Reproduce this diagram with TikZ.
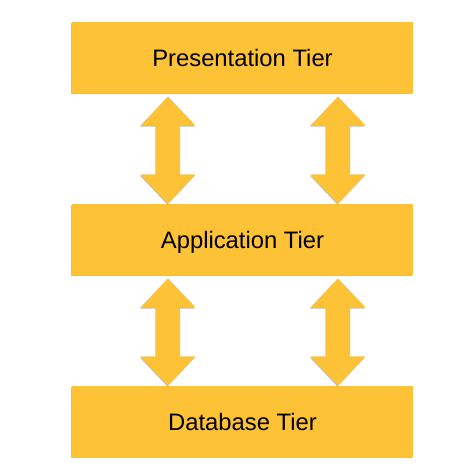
\documentclass[tikz,border=0pt]{standalone}
\usepackage{fontspec}
\setmainfont{Liberation Sans}
\usetikzlibrary{positioning,calc,shadows}
\definecolor{tieryellow}{HTML}{FDC236}
\tikzset{
  tier/.style={fill=tieryellow, minimum width=341pt, minimum height=71.5pt,
    inner sep=0pt, text height=18.5pt, text depth=0pt,
    font=\fontsize{23.8}{28}\selectfont,
    drop shadow={shadow xshift=-0.6pt, shadow yshift=-1.2pt, opacity=0.25, fill=black}},
  link/.style={fill=tieryellow,
    drop shadow={shadow xshift=-0.6pt, shadow yshift=-1.2pt, opacity=0.25, fill=black}}
}
% double headed arrow from #1 down to #2, shifted #3 from the centre
\newcommand\tierlink[3]{%
  \path[link] let \p1=($(#1.south)+(#3,-3pt)$), \p2=($(#2.north)+(#3,0)$) in
    (\x1,\y1) -- (\x1+27.5pt,\y1-29pt) -- (\x1+12pt,\y1-29pt)
    -- (\x1+12pt,\y2+29pt) -- (\x1+27.5pt,\y2+29pt) -- (\x2,\y2)
    -- (\x1-27.5pt,\y2+29pt) -- (\x1-12pt,\y2+29pt)
    -- (\x1-12pt,\y1-29pt) -- (\x1-27.5pt,\y1-29pt) -- cycle;}
\begin{document}
\begin{tikzpicture}[x=1pt, y=-1pt]
  \useasboundingbox (0,0) rectangle (460,469);
  \node[tier] (pres) at (242.5,57.5) {Presentation Tier};
  \node[tier, below=110pt of pres] (app) {Application Tier};
  \node[tier, below=110pt of app] (db) {Database Tier};
  \tierlink{pres}{app}{-74.5pt}
  \tierlink{pres}{app}{95.5pt}
  \tierlink{app}{db}{-74.5pt}
  \tierlink{app}{db}{95.5pt}
\end{tikzpicture}
\end{document}
